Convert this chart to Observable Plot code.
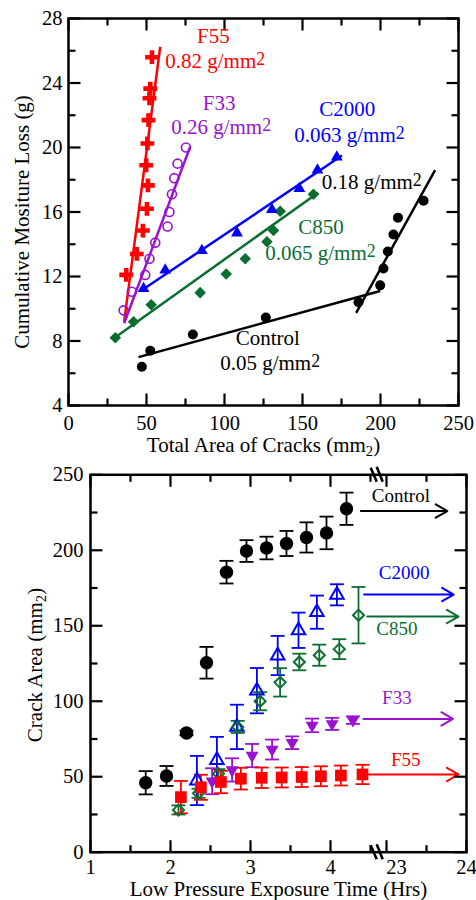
<!DOCTYPE html>
<html>
<head>
<meta charset="utf-8">
<script src="https://cdn.jsdelivr.net/npm/d3@7"></script>
<script src="https://cdn.jsdelivr.net/npm/@observablehq/plot@0.6"></script>
<style>
html,body{margin:0;padding:0;background:#fff;}
#chart{width:476px;height:900px;overflow:hidden;background:#fff;}
#chart svg{display:block;}
</style>
</head>
<body>
<div id="chart"></div>
<script>
// ================= TOP PANEL DATA: cumulative moisture loss vs crack area =================
const ctrlArea  = [47, 52.4, 79.7, 126.5, 185.9, 199.8, 201.9, 204.7, 208.3, 211.2, 227.6];
const ctrlLoss  = [6.4, 7.4, 8.4, 9.45, 10.4, 11.45, 12.5, 13.55, 14.6, 15.65, 16.7];
const f55Area   = [37.0, 43.8, 47.7, 50.3, 50.9, 49.8, 50.6, 51.3, 51.9, 52.4, 53.5];
const f55Loss   = [12.1, 13.4, 14.85, 16.2, 17.65, 18.9, 20.25, 21.7, 23.05, 23.65, 25.6];
const f33Area   = [35.3, 40.6, 49.2, 51.9, 55.6, 63.5, 64.7, 66.3, 67.8, 69.9, 75.3];
const f33Loss   = [9.9, 11.05, 12.1, 13.1, 14.1, 15.1, 16.0, 17.1, 18.1, 19.0, 20.0];
const c2000Area = [48.1, 62, 85.5, 108, 130.4, 148, 159.6, 172];
const c2000Loss = [11.25, 12.4, 13.6, 14.7, 16.15, 17.45, 18.6, 19.4];
const c850Area  = [30, 41.7, 53, 84.4, 101.1, 113.3, 127.2, 131.4, 135.7, 157];
const c850Loss  = [8.2, 9.2, 10.25, 11.0, 12.15, 13.1, 14.15, 14.85, 16.05, 17.1];

// fitted lines (end points)
const fitKey = ["ctrl", "ctrl", "f55", "f33", "c2000", "c850"];
const fitX1  = [44.9, 184.4, 35.7, 35.7, 47, 31];
const fitY1  = [7.0, 9.75, 9.2, 9.1, 11.15, 8.3];
const fitX2  = [199.8, 235, 58.8, 78, 175.3, 160];
const fitY2  = [11.1, 18.6, 26.25, 20.05, 19.5, 17.2];

// annotations
const topNoteText  = ["F55", "0.82 g/mm²", "F33", "0.26 g/mm²", "C2000", "0.063 g/mm²", "0.18 g/mm²", "C850", "0.065 g/mm²", "Control", "0.05 g/mm²"];
const topNoteX     = [92.9, 62.0, 96.5, 65.8, 178.7, 144.7, 162.4, 161.9, 126.1, 127.7, 97.2];
const topNoteY     = [26.87, 25.35, 22.73, 21.26, 22.37, 20.76, 17.87, 15.07, 13.47, 8.16, 6.61];
const topNoteKey   = ["f55", "f55", "f33", "f33", "c2000", "c2000", "ctrl", "c850", "c850", "ctrl", "ctrl"];
const topNoteAlign = ["middle", "start", "middle", "start", "middle", "start", "start", "middle", "start", "middle", "start"];

const topXMajor = [0, 50, 100, 150, 200, 250];
const topXMinor = [25, 75, 125, 175, 225];
const topYMajor = [4, 8, 12, 16, 20, 24, 28];
const topYMinor = [6, 10, 14, 18, 22, 26];
const topXLabel = "Total Area of Cracks (mm₂)";
const topYLabel = "Cumulative Mositure Loss (g)";

// ================= BOTTOM PANEL DATA: crack area vs exposure time =================
const hrsCtrl  = [1.69, 1.95, 2.2, 2.45, 2.7, 2.95, 3.2, 3.45, 3.7, 3.95, 4.2];
const areaCtrl = [46, 50.5, 79, 125.5, 185.5, 199.5, 201.5, 204.5, 208.5, 211.5, 227.5];
const errCtrl  = [7.7, 6.6, 1.5, 10.5, 7.5, 7.2, 7.5, 8.3, 10, 10.8, 10.7];

const hrsC2000  = [2.33, 2.58, 2.83, 3.08, 3.34, 3.6, 3.83, 4.08];
const areaC2000 = [47.5, 61, 83, 107, 130.3, 147, 159, 170.5];
const errC2000  = [16.3, 15.4, 14.7, 15, 13, 11.7, 11, 7];

const hrsC850  = [2.1, 2.35, 2.6, 2.84, 3.12, 3.37, 3.61, 3.86, 4.11, 4.35];
const areaC850 = [28, 39, 52, 83, 100, 112.5, 126, 130.5, 134.5, 157];
const errC850  = [3, 3, 3, 4, 6, 9.4, 5.5, 7, 6.6, 18.7];

const hrsF33  = [2.52, 2.77, 3.02, 3.27, 3.52, 3.77, 4.02, 4.28];
const areaF33 = [47, 54.5, 64, 68, 72.5, 84, 85, 87.5];
const errF33  = [8.6, 7.7, 7.7, 6.6, 4.2, 4.5, 4, 2.5];

const hrsF55  = [2.13, 2.38, 2.63, 2.88, 3.14, 3.39, 3.64, 3.88, 4.13, 4.4];
const areaF55 = [36.5, 43, 46.5, 48.7, 49.3, 49.5, 49.8, 50.3, 50.8, 51.5];
const errF55  = [10.7, 8.3, 7.4, 7.2, 6.8, 6.6, 6.6, 6.6, 6.6, 6.4];

// arrows toward 24 h
const arrowKey      = ["ctrl", "c2000", "c850", "f33", "f55"];
const arrowFromHrs  = [4.38, 4.42, 4.46, 4.41, 4.48];
const arrowToHrs    = [23.76, 23.84, 23.9, 23.83, 23.9];
const arrowArea     = [226, 170.7, 156.1, 88.3, 51.5];
const seriesLabel     = ["Control", "C2000", "C850", "F33", "F55"];
const seriesLabelHrs  = [23.18, 23.22, 23.13, 23.13, 23.24];
const seriesLabelArea = [236.3, 184.9, 148, 102, 61];

const breakHrs = [4.59];
const botXMajorHrs = [1, 2, 3, 4, 23, 24];
const botXMinorHrs = [1.5, 2.5, 3.5, 4.5, 23.5];
const botYMajor = [0, 50, 100, 150, 200, 250];
const botYMinor = [25, 75, 125, 175, 225];
const botXLabel = "Low Pressure Exposure Time (Hrs)";
const botYLabel = "Crack Area (mm₂)";

// ================= STYLE =================
const COLOR = {ctrl: "#000000", f55: "#ff0000", f33: "#9a12d0", c2000: "#0000ff", c850: "#0b6e31"};
const FONT = "Liberation Serif";
const NS = "http://www.w3.org/2000/svg";

// broken time axis: 23–24 h placed right after 4.7
const brk = h => (h >= 23 ? h - 18.3 : h);
const unbrk = v => (v > 4.65 ? String(Math.round(v + 18.3)) : String(v));

const pts = (xs, ys) => xs.map((x, i) => ({x, y: ys[i]}));
const seg = (a, b) => ({draw(ctx) { ctx.moveTo(a[0], a[1]); ctx.lineTo(b[0], b[1]); }});
const capSym = seg([-7, 0], [7, 0]);
const breakSym = {draw(ctx) { ctx.moveTo(-7, -7); ctx.lineTo(-1, 7); ctx.moveTo(-1, -8); ctx.lineTo(5, 7); }};

function frameTicks(xMaj, xMin, yMaj, yMin, xDom, yDom, L, l) {
  const m = [];
  const add = (data, sym) => m.push(Plot.dot(data, {x: "x", y: "y", symbol: sym, r: 1, fill: "none", stroke: "black", strokeWidth: 2.2}));
  add(xMaj.map(x => ({x, y: yDom[0]})), seg([0, 0], [0, -L]));
  add(xMin.map(x => ({x, y: yDom[0]})), seg([0, 0], [0, -l]));
  add(xMaj.map(x => ({x, y: yDom[1]})), seg([0, 0], [0, L]));
  add(xMin.map(x => ({x, y: yDom[1]})), seg([0, 0], [0, l]));
  add(yMaj.map(y => ({x: xDom[0], y})), seg([0, 0], [L, 0]));
  add(yMin.map(y => ({x: xDom[0], y})), seg([0, 0], [l, 0]));
  add(yMaj.map(y => ({x: xDom[1], y})), seg([0, 0], [-L, 0]));
  add(yMin.map(y => ({x: xDom[1], y})), seg([0, 0], [-l, 0]));
  return m;
}

// ================= TOP PLOT =================
const topXDom = [0, 250], topYDom = [4, 28];
const fits = fitKey.map((k, i) => ({k, x1: fitX1[i], y1: fitY1[i], x2: fitX2[i], y2: fitY2[i]}));
const notes = topNoteText.map((t, i) => ({t, x: topNoteX[i], y: topNoteY[i], k: topNoteKey[i], a: topNoteAlign[i]}));

const topPlot = Plot.plot({
  width: 476, height: 455,
  marginLeft: 68, marginRight: 18, marginTop: 18, marginBottom: 50,
  x: {domain: topXDom}, y: {domain: topYDom},
  color: {type: "identity"},
  style: {fontFamily: FONT, fontSize: "20px", background: "transparent", overflow: "visible"},
  marks: [
    Plot.link(fits, {x1: "x1", y1: "y1", x2: "x2", y2: "y2", stroke: d => COLOR[d.k], strokeWidth: 2.5}),
    Plot.dot(pts(ctrlArea, ctrlLoss), {x: "x", y: "y", symbol: "circle", r: 5, fill: COLOR.ctrl}),
    Plot.dot(pts(c850Area, c850Loss), {x: "x", y: "y", symbol: "diamond2", r: 5.2, fill: COLOR.c850}),
    Plot.dot(pts(c2000Area, c2000Loss), {x: "x", y: "y", symbol: "triangle", r: 4.4, fill: COLOR.c2000}),
    Plot.dot(pts(f33Area, f33Loss), {x: "x", y: "y", symbol: "circle", r: 4.5, fill: "none", stroke: COLOR.f33, strokeWidth: 1.6}),
    Plot.dot(pts(f55Area, f55Loss), {x: "x", y: "y", symbol: "cross", r: 5.8, fill: COLOR.f55}),
    ...frameTicks(topXMajor, topXMinor, topYMajor, topYMinor, topXDom, topYDom, 12, 7),
    Plot.frame({stroke: "black", strokeWidth: 2.5}),
    Plot.axisX(topXMajor, {anchor: "bottom", tickSize: 0, tickPadding: 9.5, fontSize: 20.5, label: null}),
    Plot.axisY(topYMajor, {anchor: "left", tickSize: 0, tickPadding: 6, fontSize: 20.5, label: null}),
    Plot.text([topXLabel], {frameAnchor: "bottom", text: d => d, textAnchor: "middle", lineAnchor: "middle", dy: 39.5, fontSize: 21}),
    Plot.text([topYLabel], {frameAnchor: "left", text: d => d, textAnchor: "middle", lineAnchor: "middle", rotate: -90, dx: -46.5, dy: 10, fontSize: 21}),
    Plot.text(notes.filter(d => d.a === "middle"), {x: "x", y: "y", text: "t", fill: d => COLOR[d.k], fontSize: 21, textAnchor: "middle"}),
    Plot.text(notes.filter(d => d.a === "start"), {x: "x", y: "y", text: "t", fill: d => COLOR[d.k], fontSize: 21, textAnchor: "start"})
  ]
});

// ================= BOTTOM PLOT =================
const botXDom = [brk(1), brk(24)], botYDom = [0, 250];
function series(hrs, area, err, key) {
  return hrs.map((h, i) => ({x: brk(h), y: area[i], lo: area[i] - err[i], hi: area[i] + err[i], k: key}));
}
const sCtrl = series(hrsCtrl, areaCtrl, errCtrl, "ctrl");
const sC2000 = series(hrsC2000, areaC2000, errC2000, "c2000");
const sC850 = series(hrsC850, areaC850, errC850, "c850");
const sF33 = series(hrsF33, areaF33, errF33, "f33");
const sF55 = series(hrsF55, areaF55, errF55, "f55");
const allS = [sCtrl, sC2000, sC850, sF33, sF55];

const errMarks = [];
for (const s of allS) {
  const c = COLOR[s[0].k];
  errMarks.push(Plot.ruleX(s, {x: "x", y1: "lo", y2: "hi", stroke: c, strokeWidth: 1.8}));
  errMarks.push(Plot.dot(s, {x: "x", y: "lo", symbol: capSym, r: 1, fill: "none", stroke: c, strokeWidth: 1.8}));
  errMarks.push(Plot.dot(s, {x: "x", y: "hi", symbol: capSym, r: 1, fill: "none", stroke: c, strokeWidth: 1.8}));
}
const arrows = arrowKey.map((k, i) => ({k, x1: brk(arrowFromHrs[i]), x2: brk(arrowToHrs[i]), y: arrowArea[i]}));
const sLabels = seriesLabel.map((t, i) => ({t, x: brk(seriesLabelHrs[i]), y: seriesLabelArea[i], k: arrowKey[i]}));
const breaks = [];
for (const h of breakHrs) { breaks.push({x: brk(h), y: botYDom[0]}, {x: brk(h), y: botYDom[1]}); }
const botXTicksMain = botXMajorHrs.filter(h => h !== 23).map(brk);
const botXTicksAfterBreak = botXMajorHrs.filter(h => h === 23).map(brk);

const botPlot = Plot.plot({
  width: 476, height: 445,
  marginLeft: 90, marginRight: 10, marginTop: 19.3, marginBottom: 48.3,
  x: {domain: botXDom}, y: {domain: botYDom},
  color: {type: "identity"},
  style: {fontFamily: FONT, fontSize: "20px", background: "transparent", overflow: "visible"},
  marks: [
    ...errMarks,
    Plot.dot(sCtrl, {x: "x", y: "y", symbol: "circle", r: 6.7, fill: COLOR.ctrl}),
    Plot.dot(sC2000, {x: "x", y: "y", symbol: "triangle", r: 5, fill: "none", stroke: COLOR.c2000, strokeWidth: 2}),
    Plot.dot(sC850, {x: "x", y: "y", symbol: "diamond2", r: 5, fill: "none", stroke: COLOR.c850, strokeWidth: 2}),
    Plot.dot(sF33, {x: "x", y: "y", symbol: "triangle", rotate: 180, r: 4.8, fill: COLOR.f33}),
    Plot.dot(sF55, {x: "x", y: "y", symbol: "square", r: 6.6, fill: COLOR.f55}),
    Plot.arrow(arrows, {x1: "x1", x2: "x2", y1: "y", y2: "y", stroke: d => COLOR[d.k], strokeWidth: 2, headLength: 10}),
    Plot.text(sLabels, {x: "x", y: "y", text: "t", fill: d => COLOR[d.k], fontSize: 19}),
    ...frameTicks(botXMajorHrs.map(brk), botXMinorHrs.map(brk), botYMajor, botYMinor, botXDom, botYDom, 12, 7),
    Plot.frame({stroke: "black", strokeWidth: 2.5}),
    Plot.dot(breaks, {x: "x", y: "y", symbol: breakSym, r: 1, fill: "none", stroke: "black", strokeWidth: 2.6}),
    Plot.axisX(botXTicksMain, {anchor: "bottom", tickSize: 0, tickPadding: 7, fontSize: 20.5, label: null, tickFormat: unbrk}),
    Plot.axisX(botXTicksAfterBreak, {anchor: "bottom", tickSize: 0, tickPadding: 7, fontSize: 20.5, label: null, tickFormat: unbrk, dx: 10}),
    Plot.axisY(botYMajor, {anchor: "left", tickSize: 0, tickPadding: 7, fontSize: 20.5, label: null}),
    Plot.text([botXLabel], {frameAnchor: "bottom", text: d => d, textAnchor: "middle", lineAnchor: "middle", dy: 37, fontSize: 21}),
    Plot.text([botYLabel], {frameAnchor: "left", text: d => d, textAnchor: "middle", lineAnchor: "middle", rotate: -90, dx: -55, dy: 1.5, fontSize: 21})
  ]
});

const chart = document.getElementById("chart");
chart.appendChild(topPlot);
chart.appendChild(botPlot);

// superscript / subscript "2" as real tspans
function styleScripts(svg) {
  svg.querySelectorAll("text").forEach(el => {
    if (el.querySelector("tspan")) return;
    const t = el.textContent;
    const i = t.search(/[²₂]/);
    if (i < 0) return;
    const sup = t[i] === "²";
    const fs = parseFloat(getComputedStyle(el).fontSize) || 20;
    const shift = Math.round(fs * (sup ? 0.12 : 0.2));
    el.textContent = t.slice(0, i);
    const s = document.createElementNS(NS, "tspan");
    s.setAttribute("font-size", ((sup ? 0.85 : 0.7) * fs).toFixed(1));
    s.setAttribute("dy", sup ? -shift : shift);
    s.textContent = "2";
    el.appendChild(s);
    const rest = t.slice(i + 1);
    if (rest) {
      const r = document.createElementNS(NS, "tspan");
      r.setAttribute("dy", sup ? shift : -shift);
      r.textContent = rest;
      el.appendChild(r);
    }
  });
}
styleScripts(topPlot);
styleScripts(botPlot);
</script>
</body>
</html>
